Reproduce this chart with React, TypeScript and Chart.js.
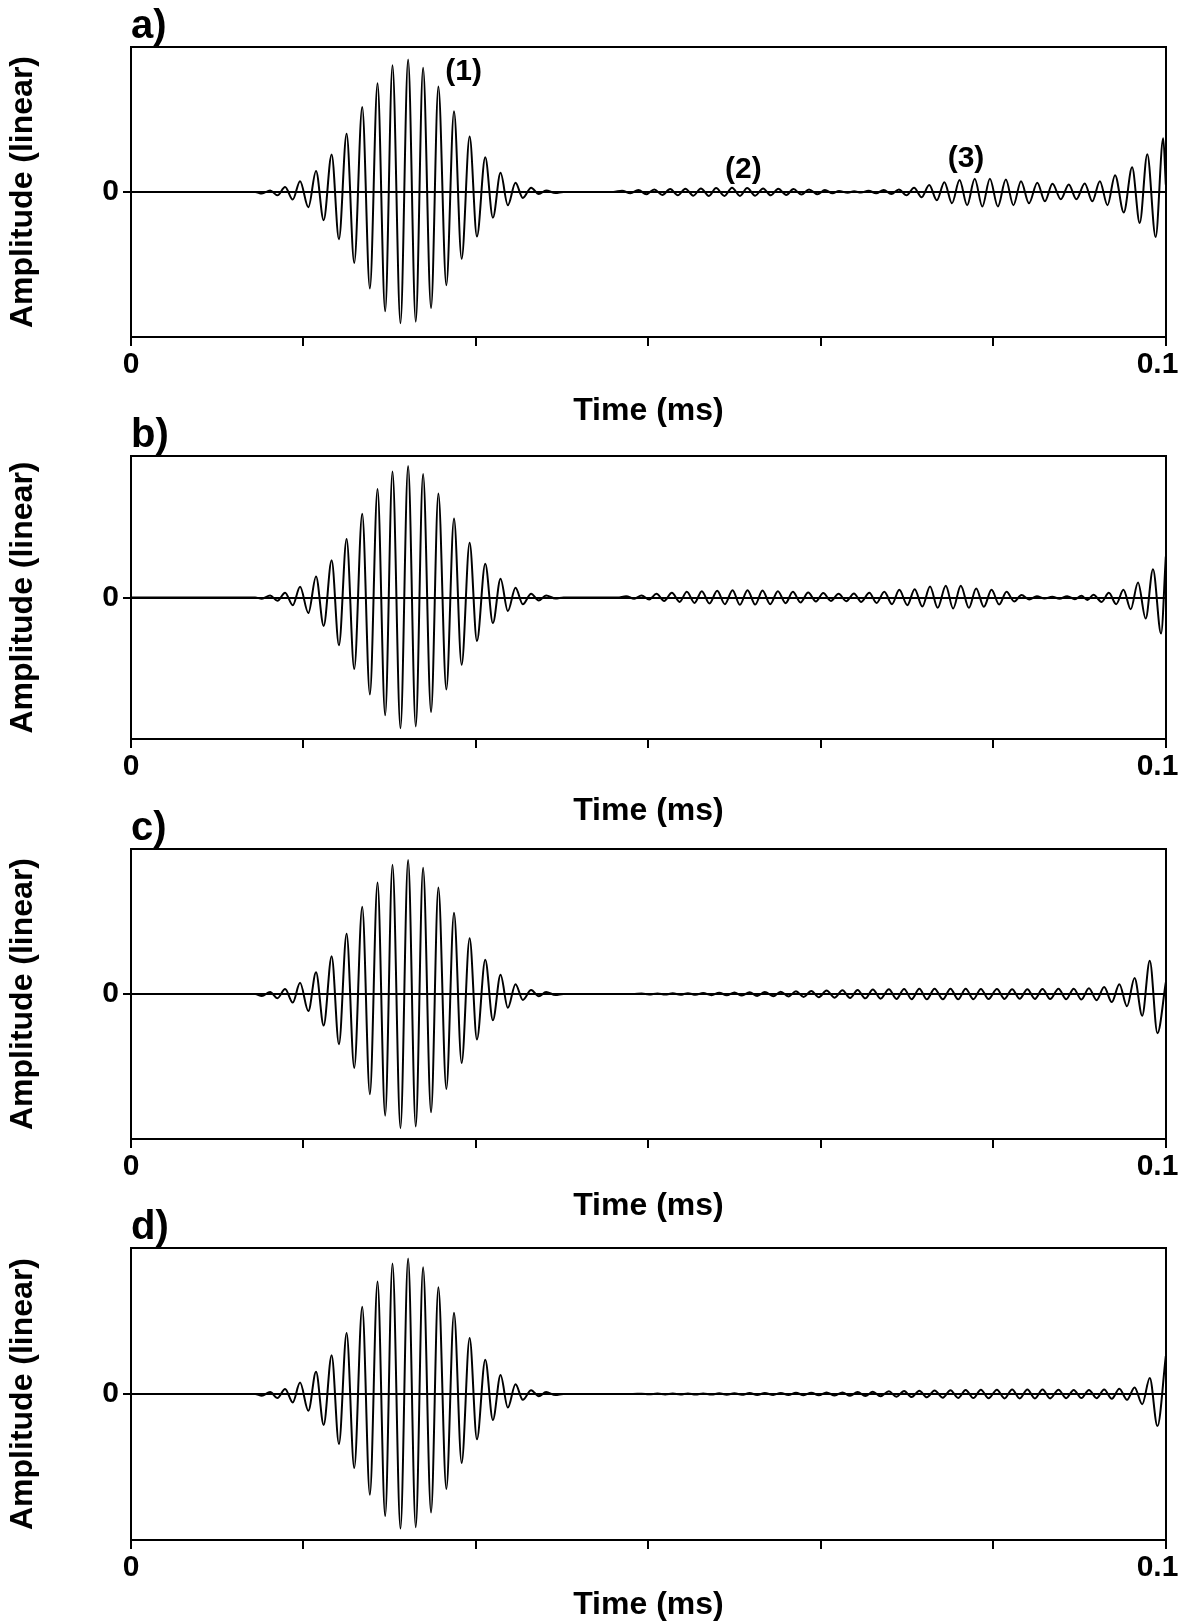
import React, { useEffect, useRef } from "react";
import { Chart, registerables } from "chart.js";

Chart.register(...registerables);

// ---------- axis ticks ----------
const X_TICKS = [0, 0.016667, 0.033333, 0.05, 0.066667, 0.083333, 0.1];
const X_TICK_LABELS = ["0", "", "", "", "", "", "0.1\u00a0\u00a0"];
const Y_TICKS = [0];
const Y_TICK_LABELS = ["0"];
const X_TITLE = "Time (ms)";
const Y_TITLE = "Amplitude (linear)";
const PANEL_LABELS = ["a)", "b)", "c)", "d)"];

// ---------- main burst (1): extrema times (ms), shared by all panels ----------
const BURST_T = [0.012643, 0.013446, 0.014153, 0.014892, 0.015631, 0.016337, 0.01714, 0.01788, 0.018619, 0.01939,
  0.020096, 0.020835, 0.021574, 0.022345, 0.023084, 0.023823, 0.024562, 0.025269, 0.02604, 0.026779,
  0.027518, 0.028225, 0.028996, 0.029703, 0.030474, 0.031213, 0.031952, 0.032723, 0.03343, 0.034233,
  0.034972, 0.035711, 0.036417, 0.037157, 0.037863, 0.038667, 0.039405, 0.040113, 0.04101];

const BURST_A_A = [-0.011, 0.011, -0.023, 0.034, -0.052, 0.075, -0.105, 0.145, -0.195, 0.259, -0.325, 0.402, -0.489,
  0.586, -0.666, 0.75, -0.823, 0.875, -0.905, 0.914, -0.894, 0.857, -0.8, 0.727, -0.643, 0.557, -0.461, 0.382,
  -0.307, 0.239, -0.177, 0.132, -0.091, 0.064, -0.041, 0.03, -0.014, 0.011, -0.007];
const BURST_A_B = [-0.009, 0.014, -0.023, 0.034, -0.055, 0.076, -0.11, 0.149, -0.201, 0.263, -0.338, 0.414, -0.505,
  0.592, -0.686, 0.767, -0.833, 0.89, -0.924, 0.929, -0.911, 0.872, -0.81, 0.735, -0.65, 0.558, -0.476, 0.387,
  -0.307, 0.238, -0.181, 0.133, -0.096, 0.069, -0.048, 0.027, -0.021, 0.014, -0.007];
const BURST_A_C = [-0.014, 0.014, -0.029, 0.034, -0.059, 0.077, -0.118, 0.15, -0.218, 0.261, -0.347, 0.415, -0.51,
  0.601, -0.692, 0.769, -0.839, 0.891, -0.925, 0.925, -0.914, 0.871, -0.816, 0.735, -0.655, 0.56, -0.476, 0.385,
  -0.313, 0.236, -0.181, 0.132, -0.095, 0.068, -0.041, 0.027, -0.016, 0.014, -0.007];
const BURST_A_D = [-0.012, 0.013, -0.027, 0.035, -0.058, 0.078, -0.115, 0.152, -0.212, 0.265, -0.343, 0.418, -0.507,
  0.598, -0.69, 0.77, -0.836, 0.893, -0.922, 0.928, -0.912, 0.868, -0.812, 0.732, -0.65, 0.556, -0.472, 0.383,
  -0.31, 0.235, -0.178, 0.13, -0.093, 0.066, -0.04, 0.026, -0.015, 0.013, -0.007];

// ---------- quiet stretches (amplitude 0) ----------
const ZERO_T_A = [0, 0.012, 0.0418, 0.0466];
const ZERO_T_B = [0, 0.012, 0.0418, 0.047];
const ZERO_T_C = [0, 0.012, 0.0418, 0.0485];
const ZERO_T_D = [0, 0.012, 0.0418, 0.0485];

// ---------- later echoes (2), (3) and the edge: extrema ----------
const TAIL_T_A = [0.047452, 0.048259, 0.049028, 0.049798, 0.050567, 0.051337, 0.052106, 0.05284, 0.053572, 0.054342,
  0.055075, 0.055845, 0.056541, 0.057347, 0.05808, 0.058849, 0.059546, 0.060315, 0.061085, 0.061818,
  0.062551, 0.06332, 0.064017, 0.064787, 0.06552, 0.066326, 0.067059, 0.067792, 0.068415, 0.069258,
  0.069881, 0.070541,
  0.071273, 0.072007, 0.072739, 0.073473, 0.074205, 0.074938, 0.075671, 0.076404, 0.077137, 0.07787,
  0.078603, 0.079336, 0.080069, 0.080802, 0.081535, 0.082268, 0.083, 0.083771, 0.08454, 0.085273,
  0.086006, 0.086776, 0.087582, 0.088315, 0.089048, 0.089854, 0.090624, 0.091357, 0.092163, 0.092897,
  0.093629, 0.094362, 0.095095, 0.095938, 0.096744, 0.097478, 0.09821, 0.099016, 0.09975, 0.1];
const TAIL_A_A = [0.009, -0.009, 0.014, -0.016, 0.018, -0.02, 0.02, -0.023, 0.023, -0.025,
  0.025, -0.027, 0.027, -0.027, 0.03, -0.027, 0.027, -0.025, 0.025, -0.023,
  0.023, -0.02, 0.02, -0.018, 0.018, -0.016, 0.014, -0.009, 0.007, -0.005,
  0.005, -0.004,
  0.009, -0.009, 0.014, -0.014, 0.018, -0.023, 0.03, -0.036, 0.048, -0.057,
  0.068, -0.077, 0.082, -0.091, 0.091, -0.1, 0.091, -0.1, 0.086, -0.091,
  0.075, -0.077, 0.064, -0.064, 0.057, -0.05, 0.052, -0.05, 0.059, -0.064,
  0.075, -0.091, 0.116, -0.141, 0.17, -0.214, 0.261, -0.311, 0.37, 0.05];

const TAIL_T_B = [0.04785, 0.048632, 0.049335, 0.050078, 0.050782, 0.051525, 0.052268, 0.053011, 0.053715, 0.054458,
  0.055161, 0.055904, 0.056648, 0.05739, 0.058133, 0.058837, 0.05958, 0.060323, 0.061027, 0.06177,
  0.062513, 0.063255, 0.06396, 0.064702, 0.065445, 0.066188, 0.066892, 0.067635, 0.068378, 0.069121,
  0.069863, 0.070568, 0.071349, 0.072053, 0.072796, 0.073539, 0.074243, 0.075025, 0.075729, 0.076471,
  0.077214, 0.077957, 0.078739, 0.079444, 0.080186, 0.080969, 0.081672, 0.082416, 0.083159, 0.083901,
  0.084605, 0.085347, 0.086052, 0.086794, 0.087537, 0.088281, 0.089024, 0.089727, 0.09047, 0.091213,
  0.091839, 0.092425, 0.093012, 0.093794, 0.094498, 0.095202, 0.095906, 0.096609, 0.097313, 0.098056,
  0.09876, 0.099542, 0.1];
const TAIL_A_B = [0.009, -0.009, 0.014, -0.014, 0.026, -0.024, 0.033, -0.031, 0.04, -0.038,
  0.045, -0.042, 0.047, -0.047, 0.052, -0.052, 0.052, -0.05, 0.05, -0.047,
  0.045, -0.04, 0.04, -0.035, 0.035, -0.028, 0.031, -0.024, 0.026, -0.026,
  0.028, -0.031, 0.033, -0.038, 0.04, -0.047, 0.054, -0.054, 0.059, -0.064,
  0.078, -0.073, 0.083, -0.078, 0.083, -0.073, 0.064, -0.066, 0.054, -0.05,
  0.04, -0.028, 0.017, -0.014, 0.009, -0.007, 0.005, -0.009, 0.009, -0.012,
  0.012, -0.017, 0.019, -0.031, 0.033, -0.047, 0.054, -0.083, 0.106, -0.149,
  0.2, -0.255, 0.29];

const TAIL_T_C = [0.04934, 0.05007, 0.05088, 0.05162, 0.05235, 0.05309, 0.05382, 0.05456, 0.05529, 0.0561,
  0.05684, 0.05757, 0.05831, 0.05904, 0.05978, 0.06051, 0.06125, 0.06206, 0.06279, 0.06353,
  0.06426, 0.065, 0.06574, 0.06647, 0.06721, 0.06801, 0.06875, 0.06949, 0.07022, 0.07096,
  0.07169, 0.07243, 0.07324, 0.07397, 0.07471, 0.07544, 0.07618, 0.07691, 0.07765, 0.07846,
  0.07919, 0.07993, 0.08066, 0.0814, 0.08213, 0.08287, 0.08368, 0.08441, 0.08515, 0.08588,
  0.08662, 0.08735, 0.08809, 0.08882, 0.08963, 0.09037, 0.0911, 0.09184, 0.09257, 0.09331,
  0.09404, 0.09478, 0.09551, 0.09625, 0.09698, 0.09772, 0.09845, 0.09919, 0.1];
const TAIL_A_C = [0.003, -0.003, 0.004, -0.004, 0.005, -0.005, 0.006, -0.006, 0.007, -0.008,
  0.009, -0.009, 0.01, -0.011, 0.012, -0.013, 0.014, -0.015, 0.016, -0.017,
  0.019, -0.02, 0.021, -0.022, 0.024, -0.025, 0.026, -0.027, 0.028, -0.03,
  0.031, -0.032, 0.033, -0.034, 0.035, -0.036, 0.036, -0.037, 0.037, -0.037,
  0.037, -0.037, 0.036, -0.036, 0.035, -0.035, 0.034, -0.034, 0.033, -0.033,
  0.033, -0.034, 0.034, -0.035, 0.036, -0.036, 0.037, -0.038, 0.04, -0.043,
  0.048, -0.056, 0.068, -0.085, 0.11, -0.15, 0.23, -0.27, 0.08];

const TAIL_T_D = [0.04934, 0.05007, 0.05088, 0.05162, 0.05235, 0.05309, 0.05382, 0.05456, 0.05529, 0.0561,
  0.05684, 0.05757, 0.05831, 0.05904, 0.05978, 0.06051, 0.06125, 0.06206, 0.06279, 0.06353,
  0.06426, 0.065, 0.06574, 0.06647, 0.06721, 0.06801, 0.06875, 0.06949, 0.07022, 0.07096,
  0.07169, 0.07243, 0.07324, 0.07397, 0.07471, 0.07544, 0.07618, 0.07691, 0.07765, 0.07846,
  0.07919, 0.07993, 0.08066, 0.0814, 0.08213, 0.08287, 0.08368, 0.08441, 0.08515, 0.08588,
  0.08662, 0.08735, 0.08809, 0.08882, 0.08963, 0.09037, 0.0911, 0.09184, 0.09257, 0.09331,
  0.09404, 0.09478, 0.09551, 0.09625, 0.09698, 0.09772, 0.09845, 0.09919, 0.1];
const TAIL_A_D = [0.002, -0.002, 0.003, -0.003, 0.003, -0.003, 0.004, -0.004, 0.004, -0.004,
  0.005, -0.005, 0.005, -0.005, 0.006, -0.006, 0.006, -0.006, 0.007, -0.007,
  0.008, -0.008, 0.009, -0.009, 0.01, -0.01, 0.011, -0.012, 0.013, -0.014,
  0.015, -0.016, 0.018, -0.019, 0.02, -0.021, 0.022, -0.023, 0.024, -0.025,
  0.026, -0.027, 0.028, -0.028, 0.029, -0.029, 0.029, -0.03, 0.03, -0.03,
  0.03, -0.03, 0.03, -0.03, 0.029, -0.029, 0.028, -0.028, 0.028, -0.029,
  0.03, -0.033, 0.036, -0.04, 0.045, -0.07, 0.11, -0.22, 0.26];

// ---------- annotations in panel a ----------
const NOTE_TEXT = ["(1)", "(2)", "(3)"];
const NOTE_T = [0.03214, 0.05918, 0.08069];
const NOTE_A = [0.828, 0.157, 0.228];

// ---------- layout (pixels) ----------
const BOX_TOP = [47, 456, 849, 1248];
const BOX_H = [290, 283, 290, 292];
const XAXIS_ZONE = [93, 91, 86, 84];
const TITLE_ZONE = 47;

const FONT = "'Liberation Sans', Arial, Helvetica, sans-serif";

type Panel = {
  zeroT: number[];
  burstA: number[];
  tailT: number[];
  tailA: number[];
  notes: boolean;
};

const PANELS: Panel[] = [
  { zeroT: ZERO_T_A, burstA: BURST_A_A, tailT: TAIL_T_A, tailA: TAIL_A_A, notes: true },
  { zeroT: ZERO_T_B, burstA: BURST_A_B, tailT: TAIL_T_B, tailA: TAIL_A_B, notes: false },
  { zeroT: ZERO_T_C, burstA: BURST_A_C, tailT: TAIL_T_C, tailA: TAIL_A_C, notes: false },
  { zeroT: ZERO_T_D, burstA: BURST_A_D, tailT: TAIL_T_D, tailA: TAIL_A_D, notes: false },
];

function buildPoints(p: Panel) {
  const pts: { x: number; y: number }[] = [];
  p.zeroT.forEach((t) => pts.push({ x: t, y: 0 }));
  const nb = Math.min(BURST_T.length, p.burstA.length);
  for (let i = 0; i < nb; i++) pts.push({ x: BURST_T[i], y: p.burstA[i] });
  const nt = Math.min(p.tailT.length, p.tailA.length);
  for (let i = 0; i < nt; i++) pts.push({ x: p.tailT[i], y: p.tailA[i] });
  pts.sort((a, b) => a.x - b.x);
  return pts;
}

const notesPlugin = {
  id: "notes",
  afterDatasetsDraw(chart: any, _args: any, opts: any) {
    if (!opts || !opts.show) return;
    const { ctx, scales } = chart;
    ctx.save();
    ctx.fillStyle = "#000";
    ctx.font = `bold 30px ${FONT}`;
    ctx.textAlign = "center";
    ctx.textBaseline = "middle";
    NOTE_TEXT.forEach((txt, i) => {
      ctx.fillText(txt, scales.x.getPixelForValue(NOTE_T[i]), scales.y.getPixelForValue(NOTE_A[i]));
    });
    ctx.restore();
  },
};

function PanelChart({ idx }: { idx: number }) {
  const ref = useRef<HTMLCanvasElement>(null);
  const height = TITLE_ZONE + BOX_H[idx] + XAXIS_ZONE[idx] + 4;
  const top = BOX_TOP[idx] - TITLE_ZONE;

  useEffect(() => {
    const p = PANELS[idx];
    const black = "#000";
    const tickFont = { family: FONT, size: 30, weight: "bold" as const, lineHeight: 1.2 };
    const titleFont = { family: FONT, size: 32, weight: "bold" as const, lineHeight: 1.2 };
    const chart = new Chart(ref.current as HTMLCanvasElement, {
      type: "line",
      data: {
        datasets: [
          {
            data: buildPoints(p),
            borderColor: black,
            borderWidth: 2,
            pointRadius: 0,
            fill: false,
            cubicInterpolationMode: "monotone",
          },
        ],
      },
      plugins: [notesPlugin],
      options: {
        animation: false,
        responsive: false,
        events: [],
        layout: { padding: { left: 4, right: 28, top: 0, bottom: 4 } },
        plugins: {
          legend: { display: false },
          tooltip: { enabled: false },
          title: {
            display: true,
            text: PANEL_LABELS[idx],
            align: "start",
            fullSize: false,
            color: black,
            font: { family: FONT, size: 40, weight: "bold", lineHeight: 1 },
            padding: { top: 7, bottom: 0 },
          },
          notes: { show: p.notes },
        } as any,
        scales: {
          x: {
            type: "linear",
            position: "bottom",
            min: 0,
            max: 0.1,
            afterBuildTicks: (s: any) => {
              s.ticks = X_TICKS.map((v) => ({ value: v }));
            },
            afterFit: (s: any) => {
              s.height = XAXIS_ZONE[idx];
            },
            ticks: {
              autoSkip: false,
              maxRotation: 0,
              color: black,
              font: tickFont,
              padding: 1,
              callback: (_v: any, i: number) => X_TICK_LABELS[i] ?? "",
            },
            grid: { display: true, drawOnChartArea: false, drawTicks: true, tickLength: 9, color: black, lineWidth: 2 },
            border: { display: true, color: black, width: 2 },
            title: { display: true, text: X_TITLE, color: black, font: titleFont, padding: { top: 0, bottom: 0 } },
          },
          y: {
            type: "linear",
            position: "left",
            min: -1,
            max: 1,
            afterBuildTicks: (s: any) => {
              s.ticks = Y_TICKS.map((v) => ({ value: v }));
            },
            afterFit: (s: any) => {
              s.width = 127;
            },
            ticks: {
              color: black,
              font: tickFont,
              padding: 4,
              callback: (_v: any, i: number) => Y_TICK_LABELS[i] ?? "",
            },
            grid: { display: true, drawOnChartArea: true, drawTicks: true, tickLength: 8, color: black, lineWidth: 2 },
            border: { display: true, color: black, width: 2 },
            title: { display: true, text: Y_TITLE, color: black, font: titleFont, padding: { top: 0, bottom: 0 } },
          },
          x2: {
            type: "linear",
            position: "top",
            min: 0,
            max: 0.1,
            ticks: { display: false },
            grid: { display: false },
            border: { display: true, color: black, width: 2 },
            afterFit: (s: any) => {
              s.height = 0;
            },
          },
          y2: {
            type: "linear",
            position: "right",
            min: -1,
            max: 1,
            ticks: { display: false },
            grid: { display: false },
            border: { display: true, color: black, width: 2 },
            afterFit: (s: any) => {
              s.width = 0;
            },
          },
        },
      } as any,
    });
    return () => chart.destroy();
  }, [idx]);

  return (
    <canvas
      ref={ref}
      width={1196}
      height={height}
      style={{ position: "absolute", left: 0, top, width: 1196, height, display: "block" }}
    />
  );
}

export default function App() {
  return (
    <div
      style={{
        position: "fixed",
        left: 0,
        top: 0,
        width: 1196,
        height: 1623,
        overflow: "hidden",
        background: "#fff",
      }}
    >
      {PANELS.map((_, i) => (
        <PanelChart key={i} idx={i} />
      ))}
    </div>
  );
}
